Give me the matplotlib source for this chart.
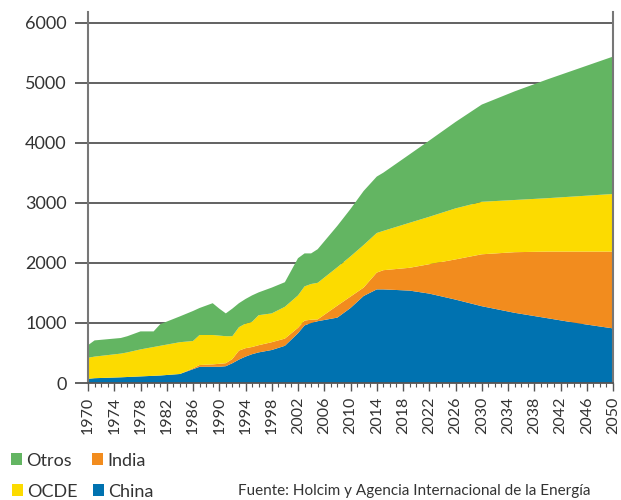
import numpy as np
import matplotlib
matplotlib.use("Agg")
import matplotlib.pyplot as plt
from matplotlib.patches import Rectangle

plt.rcParams['font.family'] = ['Lato', 'DejaVu Sans']

years = [1970, 1971, 1975, 1976, 1978, 1980, 1981, 1984, 1986, 1987, 1989, 1990, 1991,
         1992, 1993, 1994, 1995, 1996, 1998, 2000, 2002, 2003, 2004, 2005, 2008, 2010,
         2012, 2014, 2015, 2019, 2022, 2026, 2030, 2035, 2040, 2045, 2050]

china = [70, 80, 95, 100, 110, 120, 125, 150, 230, 270, 270, 270, 280,
         330, 390, 440, 480, 510, 550, 620, 830, 960, 1000, 1030, 1090, 1250,
         1450, 1560, 1560, 1540, 1490, 1390, 1280, 1170, 1080, 990, 910]
india = [0, 0, 0, 0, 0, 0, 0, 0, 15, 30, 40, 50, 50,
         70, 150, 140, 120, 120, 130, 120, 90, 80, 55, 30, 200, 190,
         140, 280, 320, 380, 490, 670, 865, 1010, 1110, 1200, 1280]
ocde = [350, 360, 395, 410, 450, 480, 495, 530, 455, 500, 490, 470, 450,
        380, 390, 410, 420, 500, 480, 530, 540, 570, 595, 610, 640, 670,
        710, 660, 655, 750, 790, 850, 875, 870, 890, 925, 960]
otros = [210, 270, 260, 270, 300, 260, 360, 430, 500, 450, 530, 450, 380,
         460, 400, 410, 440, 380, 430, 410, 620, 550, 510, 560, 690, 790,
         900, 940, 970, 1140, 1270, 1440, 1620, 1810, 1980, 2135, 2290]

names = ['China', 'India', 'OCDE', 'Otros']
colors = ['#0072b0', '#f28c1e', '#fcdb00', '#63b562']
fuente = 'Fuente: Holcim y Agencia Internacional de la Energía'

W, H = 621, 500
fig = plt.figure(figsize=(W / 100, H / 100), dpi=100)
ax = fig.add_axes([88 / W, 117 / H, (613 - 88) / W, (383 - 12) / H])

ax.stackplot(years, china, india, ocde, otros, colors=colors, lw=0)

ax.set_xlim(1970, 2050)
ax.set_ylim(0, 6183)
ax.set_axisbelow(True)
ax.yaxis.grid(True, color='#555555', lw=1.3)
ax.set_yticks(range(0, 7000, 1000))
ax.tick_params(axis='y', length=9.4, width=1.3, color='#555555', pad=6,
               labelsize=13, labelcolor='#333333')

ax.set_xticks(range(1970, 2051, 4))
ax.set_xticks(range(1970, 2051, 1), minor=True)
ax.tick_params(axis='x', which='major', length=5.8, width=1, color='#555555',
               labelsize=11.5, labelcolor='#333333', labelrotation=90, pad=4)
ax.tick_params(axis='x', which='minor', length=2.9, width=0.8, color='#555555')

ax.spines['top'].set_visible(False)
for s in ['left', 'right']:
    ax.spines[s].set_color('#777777')
    ax.spines[s].set_linewidth(1.5)
ax.spines['bottom'].set_color('#555555')
ax.spines['bottom'].set_linewidth(1.3)

# leyenda manual
leg = [('Otros', 3, 11, 453), ('India', 1, 92, 453), ('OCDE', 2, 12, 484), ('China', 0, 93, 484)]
for label, ci, x, y in leg:
    fig.add_artist(Rectangle((x / W, 1 - (y + 12) / H), 11 / W, 12 / H,
                             transform=fig.transFigure, color=colors[ci], lw=0))
    fig.text((x + 15) / W, 1 - (y + 13) / H, label, fontsize=13, color='#333333',
             va='baseline', ha='left')

fig.text(238 / W, 1 - 495 / H, fuente, fontsize=11, color='#333333',
         va='baseline', ha='left')

fig.savefig('out.png', dpi=100)
